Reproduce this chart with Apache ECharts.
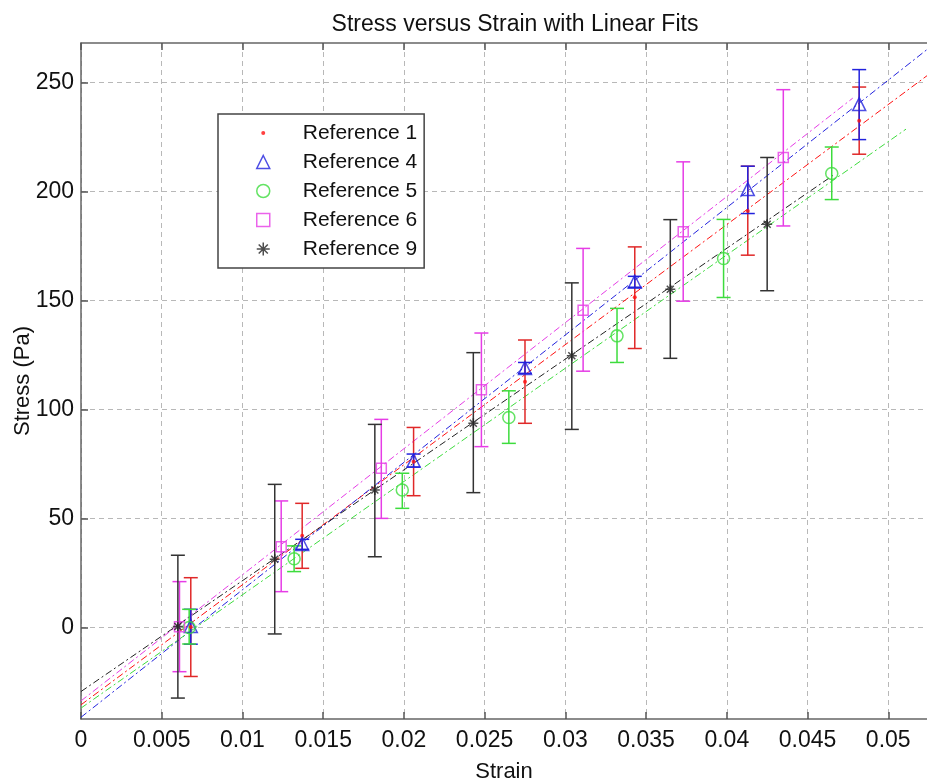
<!DOCTYPE html>
<html><head><meta charset="utf-8">
<script src="https://cdn.jsdelivr.net/npm/echarts@6/dist/echarts.min.js"></script>
<style>html,body{margin:0;padding:0;background:#fff}#c{width:927px;height:783px}</style>
</head><body><div id="c"></div>
<script>
// ---- data ----
const xTicks = [0, 0.005, 0.01, 0.015, 0.02, 0.025, 0.03, 0.035, 0.04, 0.045, 0.05];
const yTicks = [0, 50, 100, 150, 200, 250];
const refNames = ['Reference 1', 'Reference 4', 'Reference 5', 'Reference 6', 'Reference 9'];

// Reference 1 (red dots)
const strain1 = [0.0068, 0.0137, 0.0206, 0.0275, 0.0343, 0.0413, 0.0482];
const stress1 = [0.2, 42, 76, 112.7, 151.4, 191, 232.3];
const low1    = [-22.5, 27.1, 60.4, 93.6, 127.9, 170.7, 217.0];
const high1   = [22.8, 56.9, 91.7, 131.8, 174.5, 211.5, 247.8];
const fitX1 = [0, 0.0524];
const fitY1 = [-35.5, 253];

// Reference 4 (blue triangles)
const strain4 = [0.0068, 0.0137, 0.0206, 0.0275, 0.0343, 0.0413, 0.0482];
const stress4 = [0.6, 38.3, 76.5, 119, 158.5, 201, 240];
const low4    = [-7.7, 35.8, 73.5, 116.5, 156, 189.8, 223.7];
const high4   = [8.3, 40.4, 79.5, 121.5, 161, 211.5, 255.8];
const fitX4 = [0, 0.0524];
const fitY4 = [-41.2, 265];

// Reference 5 (green circles)
const strain5 = [0.0067, 0.0132, 0.0199, 0.0265, 0.0332, 0.0398, 0.0465];
const stress5 = [0, 31.5, 63, 96.3, 133.7, 169.2, 208.2];
const low5    = [-7.6, 25.6, 54.6, 84.4, 121.5, 151.3, 196.2];
const high5   = [8.3, 37.4, 70.7, 108.5, 146.3, 187.1, 220.3];
const fitX5 = [0, 0.0511];
const fitY5 = [-37, 228.5];

// Reference 6 (magenta squares)
const strain6 = [0.0061, 0.0124, 0.0186, 0.0248, 0.0311, 0.0373, 0.0435];
const stress6 = [0.3, 37, 73, 109, 145.5, 181.5, 215.5];
const low6    = [-20.3, 16.4, 50.0, 82.9, 117.5, 149.6, 184.1];
const high6   = [21.0, 58.0, 95.4, 135, 173.8, 213.5, 246.6];
const fitX6 = [0, 0.0478];
const fitY6 = [-33.7, 242.7];

// Reference 9 (black asterisks)
const strain9 = [0.0060, 0.0120, 0.0182, 0.0243, 0.0304, 0.0365, 0.0425];
const stress9 = [0.4, 31.3, 63, 93.6, 124.6, 155.1, 184.9];
const low9    = [-32.4, -3.0, 32.4, 61.8, 90.8, 123.4, 154.4];
const high9   = [33.1, 65.6, 93.1, 126, 158.0, 187, 215.5];
const fitX9 = [0, 0.0466];
const fitY9 = [-29.4, 207.4];

// ---- styling ----
const FONT = "'Liberation Sans', Arial, sans-serif";
const ASTER = 'path://M5,0L5,10M0,5L10,5M1.5,1.5L8.5,8.5M1.5,8.5L8.5,1.5';
const DOT_ICON = 'path://M0,0L0.01,0M13,13L13.01,13M8.5,6.5A2,2,0,1,1,4.5,6.5A2,2,0,1,1,8.5,6.5Z';
const refs = [
  {s: strain1, v: stress1, lo: low1, hi: high1, fx: fitX1, fy: fitY1, color: '#ff1010', barColor: '#e02828',
   symbol: 'circle', size: 4, hollow: false},
  {s: strain4, v: stress4, lo: low4, hi: high4, fx: fitX4, fy: fitY4, color: '#2222dd', barColor: '#2222dd',
   symbol: 'triangle', size: 13, hollow: true},
  {s: strain5, v: stress5, lo: low5, hi: high5, fx: fitX5, fy: fitY5, color: '#3ddc3d', barColor: '#3ddc3d',
   symbol: 'circle', size: 12, hollow: true},
  {s: strain6, v: stress6, lo: low6, hi: high6, fx: fitX6, fy: fitY6, color: '#e63ce6', barColor: '#e63ce6',
   symbol: 'rect', size: 10, hollow: true},
  {s: strain9, v: stress9, lo: low9, hi: high9, fx: fitX9, fy: fitY9, color: '#222222', barColor: '#333333',
   symbol: ASTER, size: 10, hollow: true}
];

function errRender(color) {
  return function (params, api) {
    const x = api.value(0), lo = api.value(1), hi = api.value(2);
    const a = api.coord([x, lo]), b = api.coord([x, hi]);
    const w = 7;
    const st = {stroke: color, lineWidth: 1.5, fill: null};
    return {type: 'group', children: [
      {type: 'line', shape: {x1: a[0], y1: a[1], x2: b[0], y2: b[1]}, style: st},
      {type: 'line', shape: {x1: a[0] - w, y1: a[1], x2: a[0] + w, y2: a[1]}, style: st},
      {type: 'line', shape: {x1: b[0] - w, y1: b[1], x2: b[0] + w, y2: b[1]}, style: st}
    ]};
  };
}

const series = [];
refs.forEach((r, i) => {
  series.push({
    name: 'fit' + i, type: 'line', data: r.fx.map((x, k) => [x, r.fy[k]]),
    symbol: 'none', silent: true, z: 2,
    lineStyle: {color: r.color, width: 1, type: [7, 3, 2, 3]}
  });
});
refs.forEach((r, i) => {
  series.push({
    name: 'err' + i, type: 'custom', renderItem: errRender(r.barColor), z: 3,
    data: r.s.map((x, k) => [x, r.lo[k], r.hi[k]]),
    encode: {x: 0, y: [1, 2]}, silent: true
  });
});
refs.forEach((r, i) => {
  series.push({
    name: refNames[i], type: 'scatter', z: 4, symbol: r.symbol, symbolSize: r.size,
    data: r.s.map((x, k) => [x, r.v[k]]),
    itemStyle: r.hollow ? {color: 'rgba(0,0,0,0)', borderColor: r.color, borderWidth: 1.5}
                        : {color: r.color, borderWidth: 0}
  });
});

const legendData = refNames.map((n, i) => {
  const r = refs[i];
  if (!r.hollow) {
    return {name: n, icon: DOT_ICON, itemStyle: {color: r.color, borderWidth: 0, borderColor: 'rgba(0,0,0,0)'}};
  }
  return {name: n, icon: r.symbol, itemStyle: {color: 'rgba(0,0,0,0)', borderColor: r.color, borderWidth: 1.5}};
});

const axisLineStyle = {color: '#666', width: 1.5};
const option = {
  animation: false,
  backgroundColor: '#fff',
  title: {
    text: 'Stress versus Strain with Linear Fits', left: 510, top: 8, textAlign: 'center',
    textStyle: {fontFamily: FONT, fontSize: 23, fontWeight: 'normal', color: '#111'}
  },
  legend: {
    orient: 'vertical', left: 218, top: 114,
    padding: [8.5, 7, 8.5, 38],
    itemWidth: 13, itemHeight: 13, itemGap: 8,
    backgroundColor: '#fff', borderColor: '#444', borderWidth: 1.5,
    textStyle: {fontFamily: FONT, fontSize: 21, color: '#111', lineHeight: 21, padding: [0, 0, 0, 28]},
    data: legendData, selectedMode: false
  },
  grid: {left: 81, right: 0, top: 43, bottom: 64, containLabel: false, outerBoundsMode: 'none'},
  xAxis: [{
    type: 'value', min: 0, max: 0.0524, position: 'bottom',
    name: 'Strain', nameLocation: 'middle', nameGap: 42, nameMoveOverlap: false,
    nameTextStyle: {fontFamily: FONT, fontSize: 22, color: '#111'},
    axisLine: {show: true, onZero: false, lineStyle: axisLineStyle},
    axisTick: {show: true, inside: true, length: 7, customValues: xTicks, lineStyle: {color: '#555', width: 1.5}},
    axisLabel: {customValues: xTicks, margin: 10, fontFamily: FONT, fontSize: 23, color: '#111',
      formatter: v => String(v)},
    splitLine: {show: true, lineStyle: {color: '#b8b8b8', type: [5, 4], width: 1}}
  }, {
    type: 'value', min: 0, max: 0.0524, position: 'top',
    axisLine: {show: true, onZero: false, lineStyle: axisLineStyle},
    axisTick: {show: true, inside: true, length: 7, customValues: xTicks, lineStyle: {color: '#555', width: 1.5}},
    axisLabel: {show: false, customValues: xTicks},
    splitLine: {show: false}
  }],
  yAxis: [{
    type: 'value', min: -42, max: 268,
    name: 'Stress (Pa)', nameLocation: 'middle', nameGap: 47, nameRotate: 90, nameMoveOverlap: false,
    nameTextStyle: {fontFamily: FONT, fontSize: 22, color: '#111'},
    axisLine: {show: true, onZero: false, lineStyle: axisLineStyle},
    axisTick: {show: true, inside: true, length: 7, customValues: yTicks, lineStyle: {color: '#555', width: 1.5}},
    axisLabel: {customValues: yTicks, margin: 7, fontFamily: FONT, fontSize: 23, color: '#111'},
    splitLine: {show: true, lineStyle: {color: '#b8b8b8', type: [5, 4], width: 1}}
  }],
  series: series
};
const chart = echarts.init(document.getElementById('c'), null, {renderer: 'canvas'});
chart.setOption(option);
</script>
</body></html>
